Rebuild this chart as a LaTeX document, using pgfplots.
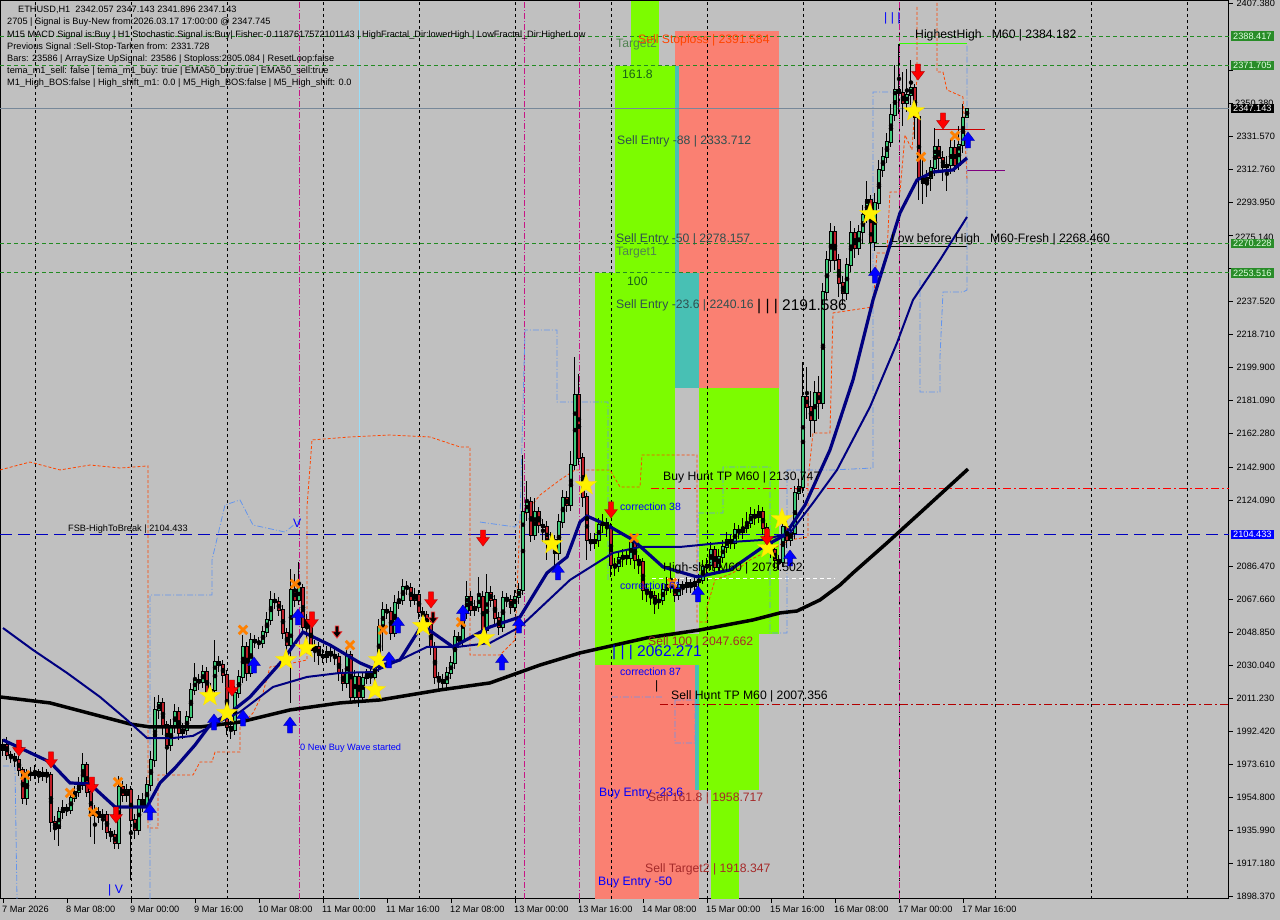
\documentclass[border=0pt]{standalone}
\usepackage{pgfplots}
\pgfplotsset{compat=1.18}
\usepackage{pgfplotstable}
\usepackage{fontspec}
\setmainfont{Liberation Sans}
\definecolor{bg}{RGB}{192,192,192}
\definecolor{zgreen}{RGB}{124,252,0}
\definecolor{zsalmon}{RGB}{250,128,114}
\definecolor{zteal}{RGB}{72,192,180}
\definecolor{bull}{RGB}{60,200,120}
\definecolor{bear}{RGB}{190,30,40}
\definecolor{navyl}{RGB}{0,0,128}
\definecolor{lvlgreen}{RGB}{34,139,34}
\definecolor{orred}{RGB}{255,69,0}
\definecolor{cblue}{RGB}{100,149,237}
\definecolor{magl}{RGB}{199,21,133}
\definecolor{brownt}{RGB}{165,42,42}
\definecolor{sgreen}{RGB}{47,79,79}
\definecolor{tgreen}{RGB}{80,130,80}
\definecolor{boxg}{RGB}{40,140,40}
\definecolor{bidl}{RGB}{119,136,153}
\newcommand\fa{\fontsize{9.2}{11}\selectfont}
\newcommand\fb{\fontsize{12.2}{14}\selectfont}
\newcommand\fc{\fontsize{10.5}{12}\selectfont}
\newcommand\fd{\fontsize{15.5}{18}\selectfont}

\pgfdeclareplotmark{dnarrow}{%
  \pgfpathmoveto{\pgfqpoint{-0.3\pgfplotmarksize}{\pgfplotmarksize}}%
  \pgfpathlineto{\pgfqpoint{0.3\pgfplotmarksize}{\pgfplotmarksize}}%
  \pgfpathlineto{\pgfqpoint{0.3\pgfplotmarksize}{0.05\pgfplotmarksize}}%
  \pgfpathlineto{\pgfqpoint{0.8\pgfplotmarksize}{0.05\pgfplotmarksize}}%
  \pgfpathlineto{\pgfqpoint{0pt}{-\pgfplotmarksize}}%
  \pgfpathlineto{\pgfqpoint{-0.8\pgfplotmarksize}{0.05\pgfplotmarksize}}%
  \pgfpathlineto{\pgfqpoint{-0.3\pgfplotmarksize}{0.05\pgfplotmarksize}}%
  \pgfpathclose
  \pgfusepathqfillstroke}
\pgfdeclareplotmark{uparrow}{%
  \pgfpathmoveto{\pgfqpoint{-0.3\pgfplotmarksize}{-\pgfplotmarksize}}%
  \pgfpathlineto{\pgfqpoint{0.3\pgfplotmarksize}{-\pgfplotmarksize}}%
  \pgfpathlineto{\pgfqpoint{0.3\pgfplotmarksize}{-0.05\pgfplotmarksize}}%
  \pgfpathlineto{\pgfqpoint{0.8\pgfplotmarksize}{-0.05\pgfplotmarksize}}%
  \pgfpathlineto{\pgfqpoint{0pt}{\pgfplotmarksize}}%
  \pgfpathlineto{\pgfqpoint{-0.8\pgfplotmarksize}{-0.05\pgfplotmarksize}}%
  \pgfpathlineto{\pgfqpoint{-0.3\pgfplotmarksize}{-0.05\pgfplotmarksize}}%
  \pgfpathclose
  \pgfusepathqfillstroke}
\pgfdeclareplotmark{fstar}{%
  \pgfpathmoveto{\pgfqpoint{0pt}{\pgfplotmarksize}}%
  \pgfpathlineto{\pgfqpoint{-0.235\pgfplotmarksize}{0.324\pgfplotmarksize}}%
  \pgfpathlineto{\pgfqpoint{-0.951\pgfplotmarksize}{0.309\pgfplotmarksize}}%
  \pgfpathlineto{\pgfqpoint{-0.380\pgfplotmarksize}{-0.124\pgfplotmarksize}}%
  \pgfpathlineto{\pgfqpoint{-0.588\pgfplotmarksize}{-0.809\pgfplotmarksize}}%
  \pgfpathlineto{\pgfqpoint{0pt}{-0.4\pgfplotmarksize}}%
  \pgfpathlineto{\pgfqpoint{0.588\pgfplotmarksize}{-0.809\pgfplotmarksize}}%
  \pgfpathlineto{\pgfqpoint{0.380\pgfplotmarksize}{-0.124\pgfplotmarksize}}%
  \pgfpathlineto{\pgfqpoint{0.951\pgfplotmarksize}{0.309\pgfplotmarksize}}%
  \pgfpathlineto{\pgfqpoint{0.235\pgfplotmarksize}{0.324\pgfplotmarksize}}%
  \pgfpathclose
  \pgfusepathqfillstroke}

\pgfplotstableread{
x o h l c
0 1981.6 1988 1978 1984.4
1 1984.4 1989 1976 1978.7
2 1978.7 1981 1974 1977.6
3 1977.6 1980 1972 1975.9
4 1975.9 1978 1967 1970.2
5 1970.2 1972 1951 1954.2
6 1954.2 1971 1950 1968.5
7 1968.5 1972 1964 1967.3
8 1967.3 1973 1965 1969.0
9 1969.0 1971 1963 1966.8
10 1966.8 1972 1964 1968.5
11 1968.5 1971 1963 1967.3
12 1967.3 1969 1935 1940.5
13 1940.5 1944 1930 1937.1
14 1937.1 1949 1927 1946.2
15 1946.2 1953 1942 1948.5
16 1948.5 1951 1944 1947.4
17 1947.4 1957 1945 1954.2
18 1954.2 1961 1952 1957.6
19 1957.6 1966 1955 1961.6
20 1961.6 1980 1959 1973.0
21 1973.0 1975 1955 1957.6
22 1957.6 1959 1932 1944.5
23 1944.5 1950 1928 1946.2
24 1946.2 1949 1940 1943.4
25 1943.4 1948 1936 1944.5
26 1944.5 1947 1931 1934.8
27 1934.8 1937 1929 1933.1
28 1933.1 1936 1925 1928.6
29 1928.6 1967 1925 1960.5
30 1960.5 1964 1952 1955.9
31 1955.9 1962 1952 1958.8
32 1958.8 1961 1907.5 1941.7
33 1941.7 1945 1931 1936.0
34 1936.0 1956 1933 1953.1
35 1953.1 1957 1946 1950.2
36 1950.2 1966 1947 1961.6
37 1961.6 1981 1958 1975.9
38 1975.9 2012 1972 2004.4
39 2004.4 2013 1999 2008.4
40 2008.4 2011 1990 1995.8
41 1995.8 1998 1968 1984.4
42 1984.4 1999 1981 1994.7
43 1994.7 2008 1991 2003.2
44 2003.2 2006 1987 1991.3
45 1991.3 1997 1988 1993.0
46 1993.0 2004 1990 2000.4
47 2000.4 2020 1998 2015.8
48 2015.8 2031 2013 2021.5
49 2021.5 2025 2016 2020.3
50 2020.3 2030 2017 2026.0
51 2026.0 2029 2010 2014.1
52 2014.1 2020 2010 2015.8
53 2015.8 2044 2013 2031.7
54 2031.7 2035 2026 2030.0
55 2030.0 2033 2020 2024.3
56 2024.3 2027 1990 1994.7
57 1994.7 1998 1988 1993.0
58 1993.0 2018 1990 2014.1
59 2014.1 2027 2011 2023.2
60 2023.2 2047 2020 2040.3
61 2040.3 2043 2021 2025.5
62 2025.5 2048 2023 2044.3
63 2044.3 2047 2040 2043.1
64 2043.1 2046 2039 2042.6
65 2042.6 2052 2040 2048.8
66 2048.8 2060 2046 2055.7
67 2055.7 2072 2053 2067.1
68 2067.1 2071 2062 2065.9
69 2065.9 2069 2058 2061.4
70 2061.4 2064 2045 2048.3
71 2048.3 2051 2037 2041.4
72 2041.4 2085 2008.4 2072.8
73 2072.8 2082 2063 2067.1
74 2067.1 2089 2064 2073.9
75 2073.9 2076 2047 2051.7
76 2051.7 2059 2044 2055.7
77 2055.7 2058 2035 2038.6
78 2038.6 2044 2032 2040.3
79 2040.3 2043 2030 2035.7
80 2035.7 2039 2031 2034.6
81 2034.6 2041 2031 2037.4
82 2037.4 2040 2032 2035.7
83 2035.7 2039 2030 2034.6
84 2034.6 2037 2021 2025.5
85 2025.5 2028 2015 2019.8
86 2019.8 2039 2017 2035.7
87 2035.7 2038 2008 2011.8
88 2011.8 2027 2009 2023.2
89 2023.2 2026 2006 2011.8
90 2011.8 2026 2009 2022.6
91 2022.6 2028 2019 2024.9
92 2024.9 2028 2019 2023.2
93 2023.2 2033 2020 2028.9
94 2028.9 2056 2026 2051.7
95 2051.7 2066 2038 2061.4
96 2061.4 2065 2056 2060.2
97 2060.2 2063 2044 2048.3
98 2048.3 2070 2046 2065.4
99 2065.4 2072 2062 2067.1
100 2067.1 2079 2064 2074.5
101 2074.5 2078 2070 2073.9
102 2073.9 2077 2063 2067.1
103 2067.1 2074 2064 2069.9
104 2069.9 2073 2056 2060.2
105 2060.2 2063 2054 2058.5
106 2058.5 2061 2049 2052.8
107 2052.8 2055 2036 2040.3
108 2040.3 2043 2019 2023.2
109 2023.2 2026 2016 2021.5
110 2021.5 2025 2016 2019.8
111 2019.8 2029 2016 2025.5
112 2025.5 2035 2022 2031.2
113 2031.2 2050 2028 2046.0
114 2046.0 2049 2040 2044.3
115 2044.3 2064 2041 2059.7
116 2059.7 2078 2056 2068.8
117 2068.8 2072 2058 2061.4
118 2061.4 2067 2058 2063.1
119 2063.1 2080 2060 2068.8
120 2068.8 2072 2046 2050.0
121 2050.0 2082 2047 2071.1
122 2071.1 2075 2063 2067.1
123 2067.1 2070 2052 2056.8
124 2056.8 2060 2047 2051.7
125 2051.7 2072 2049 2068.2
126 2068.2 2071 2063 2067.1
127 2067.1 2070 2059 2063.1
128 2063.1 2073 2060 2068.8
129 2068.8 2077 2065 2072.8
130 2072.8 2150 2070 2117.2
131 2117.2 2135 2112 2122.9
132 2122.9 2126 2100 2104.1
133 2104.1 2125 2101 2117.2
134 2117.2 2120 2105 2109.8
135 2109.8 2113 2100 2108.7
136 2108.7 2112 2090 2099.6
137 2099.6 2106 2096 2101.3
138 2101.3 2104 2085 2093.9
139 2093.9 2116 2090 2111.5
140 2111.5 2130 2108 2125.2
141 2125.2 2129 2117 2121.2
142 2121.2 2152 2118 2144.0
143 2144.0 2205.6 2141 2183.9
144 2183.9 2196 2144 2148.0
145 2148.0 2151 2120 2125.8
146 2125.8 2128 2090 2101.3
147 2101.3 2105 2095 2099.6
148 2099.6 2105 2096 2101.3
149 2101.3 2114 2097 2109.8
150 2109.8 2116 2105 2111.0
151 2111.0 2114 2103 2108.7
152 2108.7 2111 2080 2087.0
153 2087.0 2091 2081 2086.5
154 2086.5 2095 2083 2091.0
155 2091.0 2096 2086 2092.2
156 2092.2 2096 2087 2091.0
157 2091.0 2104 2087 2099.6
158 2099.6 2103 2085 2089.9
159 2089.9 2093 2082 2088.7
160 2088.7 2091 2067 2072.8
161 2072.8 2076 2066 2071.6
162 2071.6 2074 2064 2069.4
163 2069.4 2072 2059 2065.9
164 2065.9 2071 2062 2067.1
165 2067.1 2077 2064 2072.8
166 2072.8 2080 2070 2075.6
167 2075.6 2086 2071 2074.5
168 2074.5 2078 2066 2069.9
169 2069.9 2079 2067 2075.6
170 2075.6 2078 2070 2074.5
171 2074.5 2080 2071 2076.8
172 2076.8 2079 2071 2075.0
173 2075.0 2081 2071 2077.3
174 2077.3 2082 2074 2078.5
175 2078.5 2090 2076 2085.9
176 2085.9 2091 2082 2087.0
177 2087.0 2100 2084 2095.6
178 2095.6 2098 2082 2085.9
179 2085.9 2096 2083 2091.6
180 2091.6 2101 2088 2097.3
181 2097.3 2106 2094 2101.3
182 2101.3 2104 2096 2099.6
183 2099.6 2111 2096 2107.0
184 2107.0 2110 2102 2105.8
185 2105.8 2114 2102 2108.1
186 2108.1 2117 2105 2111.0
187 2111.0 2120 2108 2115.5
188 2115.5 2119 2110 2114.4
189 2114.4 2121 2111 2117.2
190 2117.2 2120 2104 2108.1
191 2108.1 2111 2095 2099.6
192 2099.6 2103 2091 2095.6
193 2095.6 2098 2085 2089.9
194 2089.9 2093 2084 2088.7
195 2088.7 2113 2086 2108.7
196 2108.7 2112 2097 2101.3
197 2101.3 2110 2098 2105.3
198 2105.3 2132 2102 2128.1
199 2128.1 2136 2124 2131.5
200 2131.5 2203 2128 2182.8
201 2182.8 2200 2170 2177.1
202 2177.1 2186 2160 2169.7
203 2169.7 2192 2162 2185.1
204 2185.1 2195 2170 2179.4
205 2179.4 2248 2176 2242.6
206 2242.6 2266 2238 2260.9
207 2260.9 2282 2254 2276.8
208 2276.8 2280 2255 2260.9
209 2260.9 2264 2240 2247.8
210 2247.8 2252 2235 2242.1
211 2242.1 2262 2238 2258.0
212 2258.0 2283 2254 2276.3
213 2276.3 2279 2262 2267.7
214 2267.7 2281 2264 2276.8
215 2276.8 2292 2270 2286.5
216 2286.5 2306 2282 2295.1
217 2295.1 2298 2253 2271.1
218 2271.1 2299 2266 2293.4
219 2293.4 2318 2290 2312.2
220 2312.2 2325 2308 2319.6
221 2319.6 2333 2316 2328.1
222 2328.1 2350 2325 2343.5
223 2343.5 2372 2340 2357.8
224 2357.8 2384.2 2344 2356.1
225 2356.1 2368 2337 2350.4
226 2350.4 2370 2345 2354.9
227 2354.9 2375 2349 2358.9
228 2358.9 2361 2330 2342.4
229 2342.4 2345 2295 2308.2
230 2308.2 2318 2293 2304.8
231 2304.8 2312 2297 2307.6
232 2307.6 2318 2300 2313.3
233 2313.3 2336 2309 2325.3
234 2325.3 2330 2312 2319.0
235 2319.0 2323 2306 2313.9
236 2313.9 2320 2300 2315.0
237 2315.0 2330 2310 2324.7
238 2324.7 2329 2311 2315.0
239 2315.0 2337 2312 2326.4
240 2326.4 2350 2322 2341.8
241 2342.057 2347.143 2341.896 2347.143
}\candles

\begin{document}
\begin{tikzpicture}[x=1pt,y=1pt]
\useasboundingbox (0,0) rectangle (1280,920);
\fill[bg] (0,0) rectangle (1280,920);
\begin{axis}[
  at={(0pt,21pt)}, anchor=south west,
  scale only axis, width=1229pt, height=898pt,
  xmin=-0.75, xmax=306.5, ymin=1896.64, ymax=2408.5,
  axis line style={black, line width=1pt},
  xtick pos=bottom, ytick pos=right, yticklabel pos=right,
  tick align=outside, major tick length=4pt,
  tick style={black, line width=0.8pt},
  xtick={0,16,...,240},
  xticklabels={7 Mar 2026,8 Mar 08:00,9 Mar 00:00,9 Mar 16:00,10 Mar 08:00,11 Mar 00:00,11 Mar 16:00,12 Mar 08:00,13 Mar 00:00,13 Mar 16:00,14 Mar 08:00,15 Mar 00:00,15 Mar 16:00,16 Mar 08:00,17 Mar 00:00,17 Mar 16:00},
  xticklabel style={anchor=north west, inner xsep=0pt, xshift=-1pt, font=\fa},
  ytick={1898.37,1917.18,1935.99,1954.80,1973.61,1992.42,2011.23,2030.04,2048.85,2067.66,2086.47,2124.09,2142.90,2162.28,2181.09,2199.90,2218.71,2237.52,2293.95,2312.76,2331.57,2407.38},
  yticklabels={1898.370,1917.180,1935.990,1954.800,1973.610,1992.420,2011.230,2030.040,2048.850,2067.660,2086.470,2124.090,2142.900,2162.280,2181.090,2199.900,2218.710,2237.520,2293.950,2312.760,2331.570,2407.380},
  extra y ticks={2256.33,2275.14,2350.38,2369.19},
  extra y tick labels={},
  yticklabel style={anchor=west, xshift=0pt, font=\fa},
]
% zones
\addplot[fill=zgreen, draw=none] coordinates {(157,2371.7) (164,2371.7) (164,2408.5) (157,2408.5)} -- cycle;
\addplot[fill=zgreen, draw=none] coordinates {(153,2253.5) (168,2253.5) (168,2371.7) (153,2371.7)} -- cycle;
\addplot[fill=zgreen, draw=none] coordinates {(148,2030.0) (168,2030.0) (168,2253.5) (148,2253.5)} -- cycle;
\addplot[fill=zgreen, draw=none] coordinates {(168,2030.0) (174,2030.0) (174,2047.66) (168,2047.66)} -- cycle;
\addplot[fill=zgreen, draw=none] coordinates {(174,2047.66) (194,2047.66) (194,2187.9) (174,2187.9)} -- cycle;
\addplot[fill=zgreen, draw=none] coordinates {(174,1958.7) (189,1958.7) (189,2047.66) (174,2047.66)} -- cycle;
\addplot[fill=zgreen, draw=none] coordinates {(177,1896.64) (184,1896.64) (184,1958.7) (177,1958.7)} -- cycle;
\addplot[fill=zsalmon, draw=none] coordinates {(168,2187.9) (194,2187.9) (194,2391.6) (168,2391.6)} -- cycle;
\addplot[fill=zteal, draw=none] coordinates {(168,2253.5) (169,2253.5) (169,2371.7) (168,2371.7)} -- cycle;
\addplot[fill=zteal, draw=none] coordinates {(168,2187.9) (174,2187.9) (174,2253.5) (168,2253.5)} -- cycle;
\addplot[fill=zsalmon, draw=none] coordinates {(148,1896.64) (174,1896.64) (174,2030.0) (148,2030.0)} -- cycle;
\addplot[fill=zteal, draw=none] coordinates {(173,1958.7) (174,1958.7) (174,2030.0) (173,2030.0)} -- cycle;
% grid verticals
\pgfplotsinvokeforeach{8,32,56,80,104,128,152,176,200,224,248,272,296}{
  \addplot[black, line width=0.8pt, dash pattern=on 3pt off 3pt] coordinates {(#1,1896.64) (#1,2408.5)};
}
\pgfplotsinvokeforeach{74,130.25,144,224}{
  \addplot[magl, line width=0.8pt, dash pattern=on 6pt off 2pt on 1pt off 2pt] coordinates {(#1,1896.64) (#1,2408.5)};
}
\addplot[cyan!40!white, line width=0.8pt] coordinates {(89,1896.64) (89,2408.5)};
% horizontal levels
\pgfplotsinvokeforeach{2388.417,2371.705,2270.228,2253.516}{
  \addplot[lvlgreen, line width=0.8pt, dash pattern=on 4pt off 3pt] coordinates {(-0.75,#1) (306.5,#1)};
}
\addplot[bidl, line width=1pt] coordinates {(-0.75,2347.143) (306.5,2347.143)};
\addplot[blue!75!black, line width=1pt, dash pattern=on 12pt off 6pt] coordinates {(-0.75,2104.433) (306.5,2104.433)};
\addplot[red, line width=1pt, dash pattern=on 8pt off 3pt on 2pt off 3pt] coordinates {(162,2130.747) (306.5,2130.747)};
\addplot[red!70!black, line width=0.8pt, dash pattern=on 8pt off 3pt on 2pt off 3pt] coordinates {(164.25,2007.356) (306.5,2007.356)};
\addplot[white, line width=1pt, dash pattern=on 4pt off 3pt] coordinates {(162.25,2079.502) (208,2079.502)};
\addplot[black, line width=1pt] coordinates {(218,2268.46) (241,2268.46)};
\addplot[green!80!yellow, line width=1pt] coordinates {(224,2384.182) (241,2384.182)};
\addplot[red!80!black, line width=1pt] coordinates {(233,2335.5) (245.5,2335.5)};
\addplot[violet, line width=1pt] coordinates {(241,2311.6) (250.5,2311.6)};
% orange dashed envelope
\addplot[orred, line width=0.8pt, dash pattern=on 3pt off 2pt, unbounded coords=jump] coordinates {
(-0.75,2141.2) (6.75,2145.7) (14.25,2141.2) (21.75,2144.0) (29.25,2142.3) (36.25,2143.5) (36.25,1937.1) (38.75,1937.1) (38.75,1967.3) (47.5,1967.3) (49.25,1974.7) (52.25,1974.7) (53,1980.4) (59.25,1980.4) (59.25,1994.7) (62.5,2002.7) (65,2014.1) (66.75,2028.9) (70,2030.0) (76,2032.9) (76,2120.1) (77.25,2158.3) (86.75,2160.0) (96.75,2161.1) (106.75,2160.0) (114.25,2154.3) (116.75,2154.3) (116.75,2035.7) (124.25,2035.7) (128,2044.3) (129.25,2112.7) (134.25,2126.9) (139.25,2135.5) (143,2141.2) (151.75,2141.2) (154.25,2131.5) (159.25,2131.5) (159.75,2149.7) (173.5,2149.7) (173.5,2054.5) (176,2054.5) (176,2063.1) (178,2078.5) (182.5,2082.5) (186.75,2089.9) (191.75,2095.6) (196.75,2101.3) (201.25,2103.0) (201.25,2135.5) (202.5,2162.3) (206.75,2162.3) (207.5,2230.7) (217.5,2234.1) (218.5,2264.9) (221,2264.9) (221.75,2299.6) (224.25,2299.6) (225.5,2332.1) (227.25,2323.6) (228.5,2365.2) (228.5,2405.1) (nan,nan) (233.5,2407.4) (233.5,2368.0) (235,2368.0) (236,2357.8) (240,2353.8) (240.5,2333.3) (241,2306.5)};
% blue dash-dot envelope
\addplot[cblue, line width=0.8pt, dash pattern=on 6pt off 2pt on 1pt off 2pt, unbounded coords=jump] coordinates {
(0,1972.5) (3,1972.5) (3.5,1896.64) (nan,nan)
(36.75,1896.64) (36.75,2069.9) (52.25,2069.9) (52.25,2089.9) (55.5,2121.2) (59.25,2124.1) (62.5,2109.8) (70.5,2105.8) (74.25,2112.7) (nan,nan)
(119.25,2111.5) (128,2108.7) (129.25,2112.7) (130.5,2221.0) (138.5,2221.0) (138.5,2179.9) (151.25,2179.9) (151.25,2078.5) (nan,nan)
(152.25,2011.8) (165,2011.8) (nan,nan)
(168,2010.1) (173,2010.1) (173,1985.6) (168,1985.6) (168,2010.1) (nan,nan)
(173.75,2072.8) (173.75,2116.7) (180,2116.7) (180,2142.9) (191.75,2142.9) (191.75,2048.3) (196,2048.3) (196,2141.2) (207.5,2141.2) (217.5,2142.3) (217.5,2356.6) (224.25,2356.6) (nan,nan)
(229.25,2249.5) (229.25,2185.6) (234.25,2185.6) (234.25,2205.6) (235,2242.6) (240,2242.6) (241,2243.8) (241,2383.4)};
% candles: wicks
\addplot[only marks, mark=none, error bars/.cd, y dir=both, y explicit, error mark=none, error bar style={draw=black, line width=1pt}]
  table[x=x, y expr={(\thisrow{h}+\thisrow{l})/2}, y error expr={(\thisrow{h}-\thisrow{l})/2}] {\candles};
% bodies outline
\addplot[only marks, mark=none, error bars/.cd, y dir=both, y explicit, error mark=none, error bar style={draw=black, line width=3.6pt}]
  table[x=x, y expr={(\thisrow{o}+\thisrow{c})/2}, y error expr={abs(\thisrow{c}-\thisrow{o})/2+0.4}] {\candles};
% bull bodies
\addplot[only marks, mark=none, restrict expr to domain={\thisrow{c}-\thisrow{o}}{0:1000}, error bars/.cd, y dir=both, y explicit, error mark=none, error bar style={draw=bull, line width=2.2pt}]
  table[x=x, y expr={(\thisrow{o}+\thisrow{c})/2}, y error expr={max(abs(\thisrow{c}-\thisrow{o})/2-0.1,0)}] {\candles};
% bear bodies
\addplot[only marks, mark=none, restrict expr to domain={\thisrow{c}-\thisrow{o}}{-1000:-0.001}, error bars/.cd, y dir=both, y explicit, error mark=none, error bar style={draw=bear, line width=2.2pt}]
  table[x=x, y expr={(\thisrow{o}+\thisrow{c})/2}, y error expr={max(abs(\thisrow{c}-\thisrow{o})/2-0.1,0)}] {\candles};
% black slow MA
\addplot[black, line width=3.5pt] coordinates {(-0.75,2011.8) (11.75,2008.4) (24.25,2000.9) (31.75,1996.4) (36.75,1994.7) (49.25,1994.7) (59.25,1997.5) (71.75,2004.4) (84.25,2008.4) (94.25,2010.1) (109.25,2015.8) (121.75,2019.8) (134.25,2030.0) (144.25,2036.9) (161,2045.5) (174.25,2050.0) (187.5,2055.7) (194.25,2059.7) (198.5,2060.8) (204.25,2067.1) (209.25,2075.6) (212.5,2082.5) (221,2099.6) (229.25,2116.7) (241.25,2141.7)};
% navy thin
\addplot[navyl, line width=2pt] coordinates {(0,2051.1) (7.5,2038.6) (16,2025.5) (24.25,2011.8) (31,1998.7) (36,1988.4) (42.5,1988.4) (47.5,1989.6) (53.5,1997.0) (59.25,2003.2) (67.5,2017.5) (76,2023.2) (84.25,2025.5) (92.5,2026.0) (99.25,2032.9) (106,2040.3) (113.5,2040.3) (121.75,2042.6) (129.25,2051.7) (141.75,2078.5) (152.5,2093.9) (159.25,2097.3) (169.25,2097.3) (181.75,2100.1) (190,2101.3) (196.75,2105.3) (202.5,2122.4) (208.5,2141.2) (216.75,2177.1) (223.5,2213.6) (227.5,2238.1) (234.25,2260.9) (241,2285.4)};
% navy thick
\addplot[navyl, line width=3.2pt] coordinates {(0,1987.3) (11.75,1974.7) (16.75,1962.8) (21.75,1962.2) (28,1949.1) (36,1949.1) (39.25,1962.8) (43,1971.3) (48,1984.4) (51.75,1995.8) (56.75,2002.7) (61.75,2011.8) (70,2032.9) (75,2048.8) (81.75,2041.4) (89.25,2031.2) (92.25,2028.3) (99.25,2032.9) (104.75,2052.8) (112.5,2040.3) (121.75,2051.7) (129.25,2057.4) (136,2082.5) (141,2091.6) (144.25,2111.5) (146,2114.9) (151,2109.8) (157.5,2101.3) (165,2085.9) (173.5,2080.2) (181.75,2084.2) (190,2097.3) (195.5,2104.1) (200.5,2121.2) (206.75,2152.6) (212.5,2192.5) (217.5,2238.1) (224.25,2287.7) (228.5,2306.5) (232.5,2311.0) (237.5,2312.2) (241,2319.0)};
% markers
\addplot[only marks, mark=x, mark size=6pt, draw=orange, line width=2.8pt] coordinates {(5.5,1967.3) (16.75,1957.1) (22.5,1946.2) (28.75,1963.3) (60,2050.0) (73,2076.2) (86.75,2041.4) (95,2050.0) (114.5,2054.5) (157.75,2102.4) (167.25,2076.8) (229.5,2319.6) (238,2331.6)};
\addplot[only marks, mark=fstar, mark size=11pt, fill=yellow, draw=yellow!85!orange, line width=0.4pt] coordinates {(51.75,2012.4) (56,2002.7) (70.75,2032.9) (75.75,2039.7) (93,2015.8) (94,2032.9) (105,2052.3) (120.25,2045.4) (137.25,2099.0) (145.75,2132.6) (191.25,2096.7) (194.75,2113.2) (216.75,2287.1) (227.75,2345.8)};
\addplot[only marks, mark=dnarrow, mark size=8pt, fill=red, draw=red!70!black, line width=0.4pt] coordinates {(4,1982.7) (12,1975.9) (22.25,1961.6) (28.25,1944.5) (57.25,2016.9) (77.25,2055.7) (107,2067.1) (120,2102.4) (152,2118.4) (191,2103.0) (228.75,2368.0) (235,2340.1)};
\addplot[only marks, mark=dnarrow, mark size=6pt, fill=none, draw=red!80!white, line width=0.8pt] coordinates {(83.5,2048.8) (107.5,2056.8)};
\addplot[only marks, mark=uparrow, mark size=8pt, fill=blue, draw=blue!70!black, line width=0.4pt] coordinates {(36.75,1946.2) (52.75,1997.5) (60,1999.8) (62.75,2030.0) (71.75,1995.8) (73.75,2057.4) (96.5,2032.9) (98.75,2052.8) (115,2059.7) (124.75,2031.7) (129,2052.8) (138.75,2083.1) (173.75,2070.5) (196.75,2091.0) (218,2252.3) (241.25,2329.3)};
\end{axis}
% partly hidden axis labels (reference shows them behind the price boxes)
\begin{scope}[every node/.style={anchor=west, inner sep=0pt, font=\fa}]
\node at (1235,816.5) {2350.380};
\node at (1235,683.0) {2275.140};
\end{scope}
% price boxes on right axis
\node[fill=boxg, text=white!88!green, font=\fa, inner xsep=2pt, inner ysep=1.5pt, anchor=west] at (1231,883.8) {2388.417};
\node[fill=boxg, text=white!88!green, font=\fa, inner xsep=2pt, inner ysep=1.5pt, anchor=west] at (1231,854.4) {2371.705};
\node[fill=black, text=white, font=\fa, inner xsep=2pt, inner ysep=1.5pt, anchor=west] at (1231,811.4) {2347.143};
\node[fill=boxg, text=white!88!green, font=\fa, inner xsep=2pt, inner ysep=1.5pt, anchor=west] at (1231,676.4) {2270.228};
\node[fill=boxg, text=white!88!green, font=\fa, inner xsep=2pt, inner ysep=1.5pt, anchor=west] at (1231,647.1) {2253.516};
\node[fill=blue, text=white, font=\fa, inner xsep=2pt, inner ysep=1.5pt, anchor=west] at (1231,385.6) {2104.433};
% info text
\begin{scope}[every node/.style={anchor=west, inner sep=0pt, font=\fa}]
\node at (18,910) {ETHUSD,H1\ \ 2342.057 2347.143 2341.896 2347.143};
\node at (7,898) {2705 | Signal is Buy-New from:2026.03.17 17:00:00 @ 2347.745};
\node at (7,885) {M15 MACD Signal is:Buy | H1 Stochastic Signal is:Buy| Fisher:-0.1187617572101143 | HighFractal\_Dir:lowerHigh | LowFractal\_Dir:HigherLow};
\node at (7,873) {Previous Signal :Sell-Stop-Tarken from: 2331.728};
\node at (7,861) {Bars: 23586 | ArraySize UpSignal: 23586 | Stoploss:2305.084 | ResetLoop:false};
\node at (7,849) {tema\_m1\_sell: false | tema\_m1\_buy: true | EMA50\_buy:true | EMA50\_sell:true};
\node at (7,837) {M1\_High\_BOS:false | High\_shift\_m1: 0.0 | M5\_High\_BOS:false | M5\_High\_shift: 0.0};
\node at (68,391) {FSB-HighToBreak | 2104.433};
\node[text=blue] at (300,172) {0 New Buy Wave started};
\node[text=blue, font=\fc] at (620,413) {correction 38};
\node[text=blue, font=\fc] at (620,334) {correction 61};
\node[text=blue, font=\fc] at (620,248) {correction 87};
\end{scope}
\begin{scope}[every node/.style={anchor=west, inner sep=0pt, font=\fb}]
\node[text=tgreen] at (616,875) {Target2};
\node[text=orred] at (638,880) {Sell Stoploss | 2391.584};
\node[text=lvlgreen!70!black] at (622,846) {161.8};
\node[text=sgreen] at (617,779) {Sell Entry -88 | 2333.712};
\node[text=sgreen] at (616,681) {Sell Entry -50 | 2278.157};
\node[text=tgreen] at (616,667) {Target1};
\node[text=lvlgreen!70!black] at (627,639) {100};
\node[text=sgreen] at (616,615) {Sell Entry -23.6 | 2240.16};
\node[font=\fd] at (757,613) {| | | 2191.586};
\node at (915,885) {HighestHigh\ \ \ M60 | 2384.182};
\node at (891,681) {Low before High\ \ \ M60-Fresh | 2268.460};
\node at (663,443) {Buy Hunt TP M60 | 2130.747};
\node at (663,352) {High-shift M60 | 2079.502};
\node[text=brownt] at (648,278) {Sell 100 | 2047.662};
\node[text=blue, font=\fd] at (612,267) {| | | 2062.271};
\node at (655,234) {|};
\node at (671,224) {Sell Hunt TP M60 | 2007.356};
\node[text=blue] at (599,126) {Buy Entry -23.6};
\node[text=brownt] at (648,122) {Sell 161.8 | 1958.717};
\node[text=brownt] at (645,51) {Sell Target2 | 1918.347};
\node[text=blue] at (598,37) {Buy Entry -50};
\node[text=blue] at (108,30) {| V};
\node[text=blue] at (293,397) {V};
\node[text=blue] at (884,902) {| | |};
\end{scope}
\end{tikzpicture}
\end{document}
